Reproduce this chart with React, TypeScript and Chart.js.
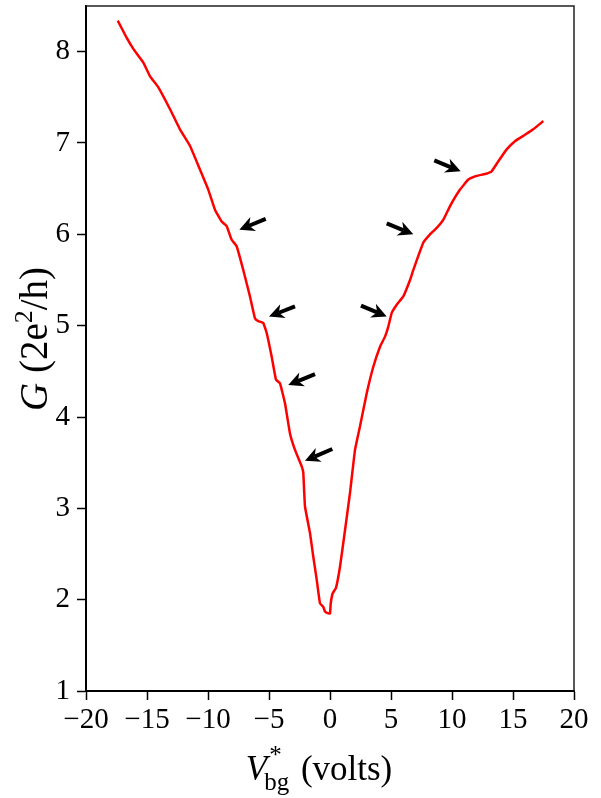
import React, { useEffect, useRef } from "react";
import { Chart, registerables } from "chart.js";

Chart.register(...registerables);

// Gate voltage V*_bg (volts)
const vbg = [
  -17.40, -16.66, -16.12, -15.30, -14.75, -14.07, -13.11, -12.30, -11.48, -10.66,
  -9.98, -9.43, -8.88, -8.47, -8.06, -7.65, -7.11, -6.56, -6.15, -5.88,
  -5.47, -5.19, -4.78, -4.43, -4.10, -3.69, -3.28, -2.87, -2.32, -2.19,
  -2.05, -1.64, -1.37, -1.09, -0.82, -0.55, -0.41, -0.14, 0.0, 0.06,
  0.22, 0.49, 0.82, 1.23, 1.64, 2.05, 2.46, 3.01, 3.55, 4.10,
  4.51, 4.78, 5.06, 5.47, 6.01, 6.56, 6.83, 7.65, 8.20, 8.75,
  9.29, 9.84, 10.66, 11.34, 12.02, 12.70, 13.25, 13.80, 14.48, 15.16,
  15.98, 16.66, 17.48,
];
// Conductance G (2e^2/h)
const conductance = [
  8.34, 8.15, 8.03, 7.88, 7.73, 7.61, 7.37, 7.15, 6.97, 6.71,
  6.49, 6.27, 6.14, 6.09, 5.94, 5.87, 5.61, 5.32, 5.08, 5.05,
  5.03, 4.92, 4.66, 4.41, 4.37, 4.15, 3.82, 3.64, 3.46, 3.39,
  3.02, 2.73, 2.47, 2.22, 1.96, 1.92, 1.87, 1.85, 1.85, 1.96,
  2.07, 2.13, 2.36, 2.76, 3.17, 3.64, 3.90, 4.26, 4.55, 4.77,
  4.88, 4.99, 5.14, 5.23, 5.32, 5.50, 5.61, 5.91, 6.00, 6.07,
  6.16, 6.31, 6.49, 6.60, 6.64, 6.66, 6.69, 6.80, 6.93, 7.02,
  7.09, 7.15, 7.24,
];

// Annotation arrows (data coordinates): tail -> tip
const arrowTailX = [-5.27, -2.87, -1.23, 0.19, 2.54, 4.65, 8.55];
const arrowTailY = [6.17, 5.21, 4.47, 3.65, 5.22, 6.12, 6.81];
const arrowTipX = [-7.43, -5.0, -3.42, -2.05, 4.65, 6.83, 10.71];
const arrowTipY = [6.05, 5.10, 4.35, 3.52, 5.10, 6.00, 6.69];

const xMin = -20, xMax = 20, xStep = 2.5, xMajor = 5;
const yMin = 1, yMax = 8.5, yStep = 0.5, yMajor = 1;

const SERIF = "'Liberation Serif', 'Times New Roman', serif";

const isMult = (v: number, m: number) => Math.abs(v / m - Math.round(v / m)) < 1e-6;

const decorPlugin = {
  id: "decor",
  afterDraw(chart: any) {
    const { ctx, chartArea: a, scales } = chart;
    const xs = scales.x, ys = scales.y;
    ctx.save();
    // top & right frame
    ctx.strokeStyle = "#222";
    ctx.lineWidth = 1.5;
    ctx.beginPath();
    ctx.moveTo(a.left, a.top);
    ctx.lineTo(a.right, a.top);
    ctx.lineTo(a.right, a.bottom);
    ctx.stroke();

    // minor ticks
    ctx.strokeStyle = "#000";
    ctx.lineWidth = 1.5;
    ctx.beginPath();
    xs.ticks.forEach((t: any) => {
      if (!isMult(t.value, xMajor)) {
        const px = xs.getPixelForValue(t.value);
        ctx.moveTo(px, a.bottom);
        ctx.lineTo(px, a.bottom + 5);
      }
    });
    ys.ticks.forEach((t: any) => {
      if (!isMult(t.value, yMajor) && t.value < yMax - 1e-6) {
        const py = ys.getPixelForValue(t.value);
        ctx.moveTo(a.left, py);
        ctx.lineTo(a.left - 5, py);
      }
    });
    ctx.stroke();

    // arrows
    ctx.fillStyle = "#000";
    ctx.strokeStyle = "#000";
    for (let i = 0; i < arrowTipX.length; i++) {
      const tx = xs.getPixelForValue(arrowTailX[i]);
      const ty = ys.getPixelForValue(arrowTailY[i]);
      const hx = xs.getPixelForValue(arrowTipX[i]);
      const hy = ys.getPixelForValue(arrowTipY[i]);
      const ang = Math.atan2(hy - ty, hx - tx);
      const c = Math.cos(ang), s = Math.sin(ang);
      const hl = 15, hw = 7.5;
      ctx.lineWidth = 4;
      ctx.lineCap = "butt";
      ctx.beginPath();
      ctx.moveTo(tx, ty);
      ctx.lineTo(hx - c * hl * 0.7, hy - s * hl * 0.7);
      ctx.stroke();
      ctx.beginPath();
      ctx.moveTo(hx, hy);
      ctx.lineTo(hx - c * hl - s * hw, hy - s * hl + c * hw);
      ctx.lineTo(hx - c * hl * 0.7, hy - s * hl * 0.7);
      ctx.lineTo(hx - c * hl + s * hw, hy - s * hl - c * hw);
      ctx.closePath();
      ctx.fill();
    }

    // axis titles
    ctx.fillStyle = "#000";
    ctx.textBaseline = "alphabetic";
    ctx.textAlign = "left";

    // X title: V*_bg (volts)
    {
      const big = 35, small = 25;
      const fBig = `${big}px ${SERIF}`;
      const fBigI = `italic ${big}px ${SERIF}`;
      const fSmall = `${small}px ${SERIF}`;
      ctx.font = fBigI;
      const wV = ctx.measureText("V").width;
      ctx.font = fSmall;
      const wStar = ctx.measureText("*").width;
      const wbg = ctx.measureText("bg").width;
      const wSub = Math.max(wStar, wbg);
      ctx.font = fBig;
      const wRest = ctx.measureText(" (volts)").width;
      const total = wV + wSub + wRest;
      const cx = 319;
      const base = 780;
      let x0 = cx - total / 2;
      ctx.font = fBigI;
      ctx.fillText("V", x0, base);
      x0 += wV;
      ctx.font = fSmall;
      ctx.fillText("*", x0 + 2, base - 17);
      ctx.fillText("bg", x0 - 3, base + 10);
      x0 += wSub;
      ctx.font = fBig;
      ctx.fillText(" (volts)", x0, base);
    }

    // Y title: G (2e^2/h)
    {
      const big = 39, small = 26;
      const fBig = `${big}px ${SERIF}`;
      const fBigI = `italic ${big}px ${SERIF}`;
      const fSmall = `${small}px ${SERIF}`;
      ctx.save();
      ctx.translate(47, 339);
      ctx.rotate(-Math.PI / 2);
      ctx.font = fBigI;
      const wG = ctx.measureText("G").width;
      ctx.font = fBig;
      const w1 = ctx.measureText(" (2e").width;
      ctx.font = fSmall;
      const w2 = ctx.measureText("2").width;
      ctx.font = fBig;
      const w3 = ctx.measureText("/h)").width;
      const total = wG + w1 + w2 + w3;
      let x0 = -total / 2;
      ctx.font = fBigI;
      ctx.fillText("G", x0, 0);
      x0 += wG;
      ctx.font = fBig;
      ctx.fillText(" (2e", x0, 0);
      x0 += w1;
      ctx.font = fSmall;
      ctx.fillText("2", x0, -15);
      x0 += w2;
      ctx.font = fBig;
      ctx.fillText("/h)", x0, 0);
      ctx.restore();
    }
    ctx.restore();
  },
};

export default function App() {
  const ref = useRef<HTMLCanvasElement | null>(null);
  useEffect(() => {
    if (!ref.current) return;
    const tickFont = { family: SERIF, size: 29 };
    const chart = new Chart(ref.current, {
      type: "line",
      data: {
        datasets: [
          {
            data: vbg.map((x, i) => ({ x, y: conductance[i] })),
            borderColor: "#ff0000",
            borderWidth: 2.5,
            pointRadius: 0,
            tension: 0.1,
            fill: false,
          },
        ],
      },
      options: {
        animation: false,
        responsive: false,
        maintainAspectRatio: false,
        layout: { padding: { top: 6, right: 27, left: 0, bottom: 0 } },
        plugins: { legend: { display: false }, tooltip: { enabled: false } },
        scales: {
          x: {
            type: "linear",
            min: xMin,
            max: xMax,
            afterFit: (s: any) => {
              s.height = 107;
              s.paddingLeft = 0;
              s.paddingRight = 0;
            },
            ticks: {
              stepSize: xStep,
              autoSkip: false,
              maxRotation: 0,
              padding: 3,
              color: "#000",
              font: tickFont,
              callback: (v: any) =>
                isMult(Number(v), xMajor) ? String(Math.round(Number(v))).replace("-", "\u2212") : null,
            },
            grid: { drawOnChartArea: false, drawTicks: true, tickLength: 9, tickColor: "#000", tickWidth: 1.5 },
            border: { display: true, color: "#000", width: 2 },
          },
          y: {
            type: "linear",
            min: yMin,
            max: yMax,
            afterFit: (s: any) => {
              s.width = 86;
              s.paddingTop = 0;
              s.paddingBottom = 0;
            },
            ticks: {
              stepSize: yStep,
              autoSkip: false,
              padding: 7,
              color: "#000",
              font: tickFont,
              callback: (v: any) => (isMult(Number(v), yMajor) ? String(Math.round(Number(v))) : null),
            },
            grid: { drawOnChartArea: false, drawTicks: true, tickLength: 9, tickColor: "#000", tickWidth: 1.5 },
            border: { display: true, color: "#000", width: 2 },
          },
        },
      },
      plugins: [decorPlugin],
    } as any);
    return () => chart.destroy();
  }, []);
  return (
    <div style={{ position: "fixed", left: 0, top: 0, width: 601, height: 798, background: "#fff" }}>
      <canvas ref={ref} width={601} height={798} style={{ width: 601, height: 798, display: "block" }} />
    </div>
  );
}
